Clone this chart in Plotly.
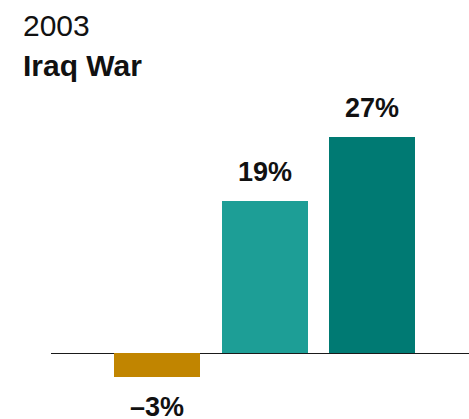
import plotly.graph_objects as go

# Values
groups = ["Group A", "Group B", "Group C"]
values = [-3, 19, 27]
labels = ["\u20133%", "19%", "27%"]
colors = ["#C18500", "#1D9E96", "#007A73"]
year = "2003"
event = "Iraq War"

W, H = 469, 419
px_per_unit = 8.0
zero_y_px = 353
ymax = zero_y_px / px_per_unit
ymin = -(H - zero_y_px) / px_per_unit

x_left_px = 51
slot_px = 107.5
first_center_px = 157
xmin = -(first_center_px - x_left_px) / slot_px
xmax = (W - first_center_px) / slot_px

fig = go.Figure(
    go.Bar(
        x=list(range(len(groups))),
        y=values,
        marker=dict(color=colors, line=dict(width=0)),
        width=0.8,
        hoverinfo="skip",
        customdata=groups,
    )
)

font_label = dict(family="Liberation Sans, Arial, sans-serif", size=27, color="#111111")
for i, (v, t) in enumerate(zip(values, labels)):
    fig.add_annotation(
        x=i, y=v, xref="x", yref="y",
        text=f"<b>{t}</b>",
        showarrow=False,
        font=font_label,
        borderpad=0,
        height=22,
        valign="middle",
        yanchor="bottom" if v >= 0 else "top",
        yshift=17 if v >= 0 else -18,
    )

fig.add_annotation(
    x=21 / W, y=1 - 26 / H, xref="paper", yref="paper",
    text=year, showarrow=False, xanchor="left", yanchor="middle",
    font=dict(family="Liberation Sans, Arial, sans-serif", size=30, color="#111111"),
)
fig.add_annotation(
    x=21 / W, y=1 - 65 / H, xref="paper", yref="paper",
    text=f"<b>{event}</b>", showarrow=False, xanchor="left", yanchor="middle",
    font=dict(family="Liberation Sans, Arial, sans-serif", size=30, color="#111111"),
)

fig.update_layout(
    width=W, height=H,
    margin=dict(l=0, r=0, t=0, b=0),
    paper_bgcolor="white", plot_bgcolor="white",
    showlegend=False,
    bargap=0,
    xaxis=dict(
        domain=[x_left_px / W, 1], range=[xmin, xmax],
        showgrid=False, zeroline=False, showticklabels=False, ticks="", showline=False,
    ),
    yaxis=dict(
        range=[ymin, ymax],
        showgrid=False, showticklabels=False, ticks="", showline=False,
        zeroline=True, zerolinecolor="#1a1a1a", zerolinewidth=1.3,
    ),
)

fig.write_html("out.html")
